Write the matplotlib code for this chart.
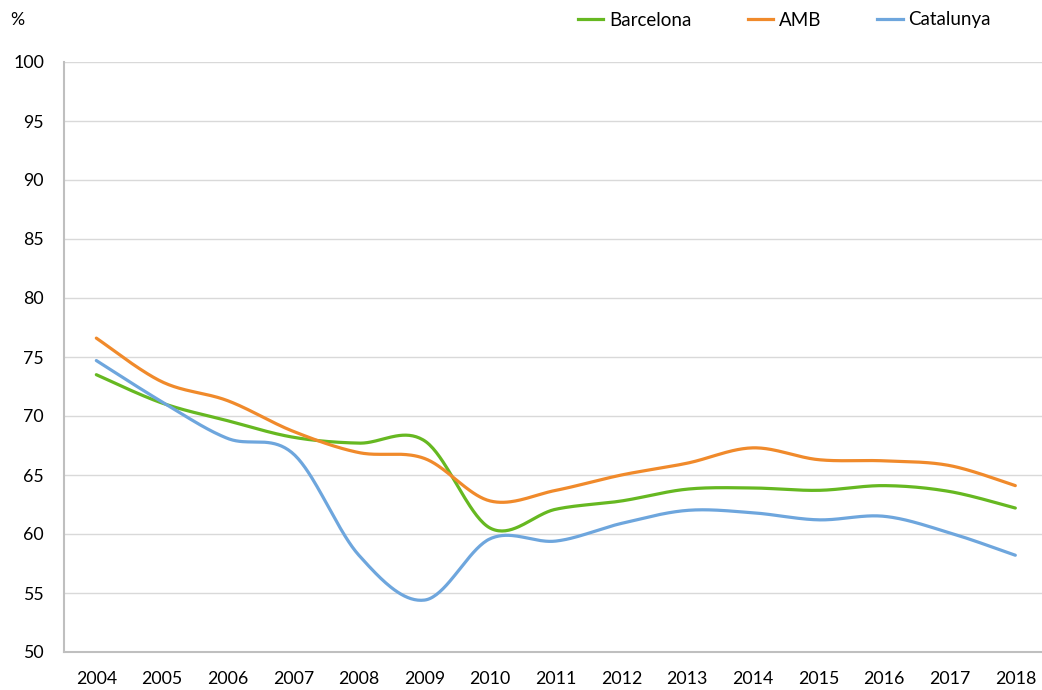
import numpy as np
import matplotlib
matplotlib.use("Agg")
import matplotlib.pyplot as plt
from matplotlib.lines import Line2D

years = ["2004", "2005", "2006", "2007", "2008", "2009", "2010", "2011",
         "2012", "2013", "2014", "2015", "2016", "2017", "2018"]
barcelona = [73.5, 71.1, 69.6, 68.2, 67.7, 67.9, 60.5, 62.1, 62.8, 63.8, 63.9, 63.7, 64.1, 63.6, 62.2]
amb = [76.6, 72.9, 71.3, 68.7, 66.9, 66.4, 62.8, 63.7, 65.0, 66.0, 67.3, 66.3, 66.2, 65.8, 64.1]
catalunya = [74.7, 71.2, 68.1, 66.8, 58.2, 54.4, 59.6, 59.4, 60.9, 62.0, 61.8, 61.2, 61.5, 60.1, 58.2]

series_names = ["Barcelona", "AMB", "Catalunya"]
colors = ["#66b821", "#f08a2b", "#6ea6dd"]

plt.rcParams['font.family'] = ['Lato', 'DejaVu Sans']


def smooth(xs, ys, n=40):
    """Excel-style smoothed line (cubic Bezier through points)."""
    P = np.column_stack([xs, ys]).astype(float)
    out = []
    m = len(P)
    for i in range(m - 1):
        p0 = P[i]
        p3 = P[i + 1]
        pm = P[i - 1] if i > 0 else P[i]
        pp = P[i + 2] if i + 2 < m else P[i + 1]
        c1 = p0 + (p3 - pm) / 6.0
        c2 = p3 - (pp - p0) / 6.0
        t = np.linspace(0, 1, n)[:, None]
        seg = ((1 - t) ** 3) * p0 + 3 * ((1 - t) ** 2) * t * c1 + 3 * (1 - t) * t ** 2 * c2 + t ** 3 * p3
        if i > 0:
            seg = seg[1:]
        out.append(seg)
    out = np.vstack(out)
    return out[:, 0], out[:, 1]


W, H = 1042, 690
fig = plt.figure(figsize=(W / 100, H / 100), dpi=100)
left, right, top, bottom = 63.5, 1042, 62, 652
ax = fig.add_axes([left / W, 1 - bottom / H, (right - left) / W, (bottom - top) / H])

x = np.arange(len(years))
for name, vals, c in zip(series_names, [barcelona, amb, catalunya], colors):
    sx, sy = smooth(x, vals)
    ax.plot(sx, sy, color=c, lw=2.3, solid_capstyle='round', zorder=3)

step = (1016 - 97) / 14.0
ax.set_xlim(-0.5, -0.5 + (right - left) / step)
ax.set_ylim(50, 100)
ax.set_yticks(np.arange(50, 101, 5))
ax.set_xticks(x)
ax.set_xticklabels(years)
ax.grid(axis='y', color='#d9d9d9', lw=1.0)
ax.set_axisbelow(True)
for s in ['top', 'right']:
    ax.spines[s].set_visible(False)
for s in ['left', 'bottom']:
    ax.spines[s].set_color('#bfbfbf')
    ax.spines[s].set_linewidth(1.5)
ax.tick_params(axis='both', length=0, labelsize=12.8, colors='#000000')
ax.tick_params(axis='y', pad=14)
ax.tick_params(axis='x', pad=14)

fig.text(10 / W, 1 - 20 / H, "%", fontsize=12.8, va='center', ha='left')

handles = [Line2D([0], [0], color=c, lw=2.3) for c in colors]
leg = fig.legend(handles, series_names, loc='center left', bbox_to_anchor=(578 / W, 1 - 20 / H),
                 ncol=3, frameon=False, fontsize=13.5, handlelength=1.35,
                 columnspacing=3.0, handletextpad=0.3, borderaxespad=0, borderpad=0)

fig.savefig("out.png", dpi=100)
